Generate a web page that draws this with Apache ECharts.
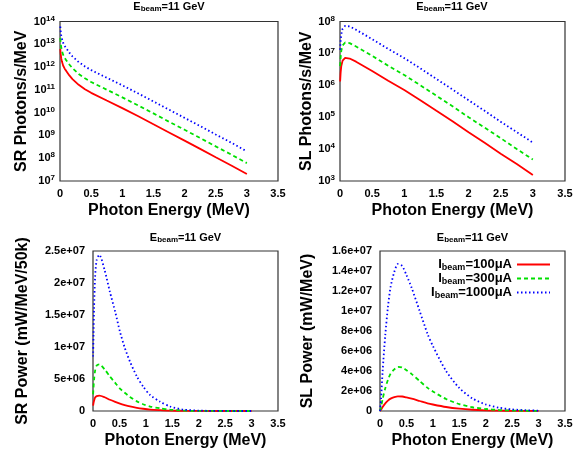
<!DOCTYPE html>
<html>
<head>
<meta charset="utf-8">
<script src="https://cdn.jsdelivr.net/npm/echarts@6/dist/echarts.min.js"></script>
<style>html,body{margin:0;padding:0;background:#fff}#c{width:582px;height:457px}</style>
</head>
<body>
<div id="c"></div>
<script>
// ---- Data ----
const beamLabels = ['I_beam=100μA', 'I_beam=300μA', 'I_beam=1000μA'];
const xTicks = [0, 0.5, 1, 1.5, 2, 2.5, 3, 3.5];

// SR photons/s/MeV (top-left)
const srPhotE = [0.005, 0.01, 0.02, 0.03, 0.05, 0.075, 0.1, 0.15, 0.2, 0.3, 0.4, 0.5, 0.75, 1.0, 1.25, 1.5, 1.75, 2.0, 2.25, 2.5, 2.75, 3.0];
const srPhot100 = [6.3e12, 4.0e12, 2.4e12, 1.78e12, 1.17e12, 8.5e11, 6.8e11, 4.3e11, 2.95e11, 1.66e11, 1.07e11, 7.4e10, 3.4e10, 1.58e10, 7.1e9, 3.1e9, 1.35e9, 5.9e8, 2.57e8, 1.1e8, 4.8e7, 2.04e7];
const srPhot300 = [1.9e13, 1.2e13, 7.2e12, 5.3e12, 3.5e12, 2.55e12, 2.0e12, 1.3e12, 8.9e11, 5.0e11, 3.2e11, 2.2e11, 1.02e11, 4.7e10, 2.1e10, 9.3e9, 4.0e9, 1.77e9, 7.7e8, 3.3e8, 1.44e8, 6.1e7];
const srPhot1000 = [6.0e13, 4.0e13, 2.4e13, 1.8e13, 1.17e13, 8.5e12, 6.8e12, 4.3e12, 2.95e12, 1.66e12, 1.07e12, 7.4e11, 3.4e11, 1.58e11, 7.1e10, 3.1e10, 1.35e10, 5.9e9, 2.57e9, 1.1e9, 4.8e8, 2.0e8];

// SL photons/s/MeV (top-right)
const slPhotE = [0.002, 0.01, 0.02, 0.04, 0.08, 0.15, 0.25, 0.5, 0.75, 1.0, 1.25, 1.5, 1.75, 2.0, 2.25, 2.5, 2.75, 3.0];
const slPhot100 = [1.32e6, 2.5e6, 4.0e6, 5.9e6, 7.2e6, 6.9e6, 5.5e6, 2.8e6, 1.38e6, 7.1e5, 3.4e5, 1.58e5, 7.4e4, 3.4e4, 1.58e4, 7.2e3, 3.4e3, 1.55e3];
const slPhot300 = [4.0e6, 7.5e6, 1.2e7, 1.77e7, 2.2e7, 2.1e7, 1.65e7, 8.4e6, 4.1e6, 2.1e6, 1.0e6, 4.7e5, 2.2e5, 1.0e5, 4.7e4, 2.2e4, 1.0e4, 4.7e3];
const slPhot1000 = [1.3e7, 2.5e7, 4.0e7, 5.9e7, 7.3e7, 7.0e7, 5.5e7, 2.8e7, 1.38e7, 7.1e6, 3.4e6, 1.58e6, 7.4e5, 3.4e5, 1.58e5, 7.2e4, 3.4e4, 1.6e4];

// SR power mW/MeV/50k (bottom-left)
const srPowE = [0.002, 0.01, 0.02, 0.04, 0.07, 0.12, 0.22, 0.32, 0.42, 0.51, 0.6, 0.7, 0.83, 0.95, 1.08, 1.27, 1.46, 1.71, 2.0, 2.5, 3.0];
const srPow100 = [0.85e6, 1.25e6, 1.6e6, 2.1e6, 2.33e6, 2.4e6, 2.15e6, 1.75e6, 1.42e6, 1.15e6, 0.93e6, 0.72e6, 0.5e6, 0.35e6, 0.23e6, 0.14e6, 0.068e6, 0.022e6, 0.006e6, 0.0008e6, 0.0001e6];
const srPow300 = [2.6e6, 3.7e6, 4.9e6, 6.3e6, 7.1e6, 7.3e6, 6.5e6, 5.4e6, 4.4e6, 3.5e6, 2.85e6, 2.2e6, 1.5e6, 1.06e6, 0.7e6, 0.42e6, 0.2e6, 0.066e6, 0.018e6, 0.0024e6, 0.0003e6];
const srPow1000 = [8.5e6, 12e6, 16e6, 21e6, 23.6e6, 24.4e6, 22.0e6, 18.6e6, 15.5e6, 12.4e6, 9.9e6, 7.7e6, 5.4e6, 3.8e6, 2.5e6, 1.45e6, 0.7e6, 0.22e6, 0.06e6, 0.008e6, 0.001e6];

// SL power mW/MeV (bottom-right)
const slPowE = [0, 0.02, 0.05, 0.1, 0.15, 0.2, 0.27, 0.34, 0.42, 0.5, 0.6, 0.75, 0.9, 1.0, 1.25, 1.5, 1.75, 2.0, 2.25, 2.5, 2.75, 3.0];
const slPow100 = [0, 0.12e6, 0.4e6, 0.76e6, 1.04e6, 1.24e6, 1.39e6, 1.47e6, 1.45e6, 1.36e6, 1.23e6, 1.0e6, 0.77e6, 0.65e6, 0.4e6, 0.23e6, 0.125e6, 0.066e6, 0.033e6, 0.016e6, 0.008e6, 0.004e6];
const slPow300 = [0, 0.36e6, 1.2e6, 2.28e6, 3.12e6, 3.72e6, 4.17e6, 4.41e6, 4.35e6, 4.08e6, 3.69e6, 3.0e6, 2.31e6, 1.95e6, 1.2e6, 0.69e6, 0.375e6, 0.198e6, 0.099e6, 0.048e6, 0.024e6, 0.012e6];
const slPow1000 = [0, 1.2e6, 4.0e6, 7.6e6, 10.4e6, 12.4e6, 13.9e6, 14.7e6, 14.5e6, 13.6e6, 12.3e6, 10.0e6, 7.7e6, 6.5e6, 4.0e6, 2.3e6, 1.25e6, 0.66e6, 0.33e6, 0.16e6, 0.08e6, 0.04e6];

// ---- Chart ----
const FONT = 'Liberation Sans, Arial, Helvetica, sans-serif';
const colors = ['#ff0000', '#00e000', '#0000ff'];
const lineTypes = ['solid', [4, 3], [1.5, 2.5]];

function pairs(xs, ys) { return xs.map((x, i) => [x, ys[i]]); }
function gnuExp(v) {
  if (v === 0) return '0';
  let e = Math.floor(Math.log10(v) + 1e-9);
  let m = v / Math.pow(10, e);
  let ms = String(Math.round(m * 100) / 100);
  return ms + 'e' + (e >= 0 ? '+' : '-') + String(Math.abs(e)).padStart(2, '0');
}
function richLabel(name) {
  const m = name.match(/^I_beam(=.*)$/);
  return '{c|I}{d|beam}{c|' + m[1] + '}';
}
const rich = {
  b: { fontSize: 11, fontWeight: 'bold', fontFamily: FONT, color: '#000', lineHeight: 14 },
  p: { fontSize: 8, fontWeight: 'bold', fontFamily: FONT, color: '#000', verticalAlign: 'top', lineHeight: 9 }
};
const legendRich = {
  c: { fontSize: 13, fontWeight: 'bold', fontFamily: FONT, color: '#000', lineHeight: 15 },
  d: { fontSize: 9, fontWeight: 'bold', fontFamily: FONT, color: '#000', verticalAlign: 'bottom', lineHeight: 9 }
};
const titleRich = {
  a: { fontSize: 11, fontWeight: 'bold', fontFamily: FONT, color: '#000', lineHeight: 13 },
  s: { fontSize: 8, fontWeight: 'bold', fontFamily: FONT, color: '#000', verticalAlign: 'bottom', lineHeight: 8 }
};

const grids = [
  { left: 60, top: 21.5, width: 218, height: 159.5 },
  { left: 340, top: 21.5, width: 225, height: 159.5 },
  { left: 93, top: 251, width: 185, height: 160 },
  { left: 380, top: 251, width: 185, height: 160 }
];
grids.forEach(g => { g.show = true; g.borderColor = '#333'; g.borderWidth = 1.2; g.backgroundColor = 'transparent'; });

const yNames = ['SR Photons/s/MeV', 'SL Photons/s/MeV', 'SR Power (mW/MeV/50k)', 'SL Power (mW/MeV)'];
const yGaps = [30, 24, 62, 64];

const xAxes = grids.map((g, i) => ({
  gridIndex: i, type: 'value', min: 0, max: 3.5, interval: 0.5,
  name: 'Photon Energy (MeV)', nameLocation: 'middle', nameGap: 22,
  nameTextStyle: { fontSize: 16, fontWeight: 'bold', fontFamily: FONT, color: '#000' },
  axisLine: { show: false }, axisTick: { show: false }, splitLine: { show: false },
  axisLabel: { fontSize: 11, fontWeight: 'bold', fontFamily: FONT, color: '#000', margin: 7,
    formatter: v => String(v) }
}));

function logLabel(v) {
  const e = Math.round(Math.log10(v));
  return '{b|10}{p|' + e + '}';
}
const yAxes = [
  { gridIndex: 0, type: 'log', logBase: 10, min: 1e7, max: 1e14, interval: 1,
    axisLabel: { formatter: logLabel, rich: rich, margin: 5 } },
  { gridIndex: 1, type: 'log', logBase: 10, min: 1e3, max: 1e8, interval: 1,
    axisLabel: { formatter: logLabel, rich: rich, margin: 5 } },
  { gridIndex: 2, type: 'value', min: 0, max: 2.5e7, interval: 5e6,
    axisLabel: { formatter: gnuExp, fontSize: 11, fontWeight: 'bold', fontFamily: FONT, color: '#000', margin: 8 } },
  { gridIndex: 3, type: 'value', min: 0, max: 1.6e7, interval: 2e6,
    axisLabel: { formatter: gnuExp, fontSize: 11, fontWeight: 'bold', fontFamily: FONT, color: '#000', margin: 8 } }
].map((a, i) => Object.assign(a, {
  name: yNames[i], nameLocation: 'middle', nameGap: yGaps[i], nameRotate: 90,
  nameTextStyle: { fontSize: 16, fontWeight: 'bold', fontFamily: FONT, color: '#000' },
  axisLine: { show: false }, axisTick: { show: false }, splitLine: { show: false }
}));

const panelData = [
  [srPhotE, [srPhot100, srPhot300, srPhot1000]],
  [slPhotE, [slPhot100, slPhot300, slPhot1000]],
  [srPowE, [srPow100, srPow300, srPow1000]],
  [slPowE, [slPow100, slPow300, slPow1000]]
];
const series = [];
panelData.forEach((pd, gi) => {
  pd[1].forEach((ys, si) => {
    series.push({
      type: 'line', name: beamLabels[si], xAxisIndex: gi, yAxisIndex: gi,
      data: pairs(pd[0], ys), showSymbol: false, symbol: 'none',
      smooth: gi >= 2 ? 0.25 : false, animation: false,
      lineStyle: { color: colors[si], width: 1.8, type: lineTypes[si] },
      itemStyle: { color: colors[si] }
    });
  });
});

const titleCenters = [[169, 0], [452, 0], [185.5, 231], [472.5, 231]];
const titles = titleCenters.map(c => ({
  text: '{a|E}{s|beam}{a|=11 GeV}', left: c[0], top: c[1], textAlign: 'center', padding: 0,
  textStyle: { rich: titleRich }
}));

const chart = echarts.init(document.getElementById('c'), null, { renderer: 'canvas' });
chart.setOption({
  animation: false,
  backgroundColor: '#fff',
  title: titles,
  grid: grids,
  xAxis: xAxes,
  yAxis: yAxes,
  legend: {
    data: beamLabels, orient: 'vertical', align: 'right',
    right: 26, top: 253, itemWidth: 33, itemHeight: 10, itemGap: 0,
    formatter: richLabel,
    itemStyle: { opacity: 0 },
    textStyle: { rich: legendRich }
  },
  series: series
});
</script>
</body>
</html>
